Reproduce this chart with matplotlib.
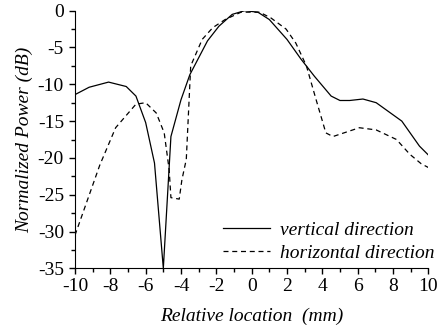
import numpy as np
import matplotlib
matplotlib.use('Agg')
from matplotlib import pyplot as plt
from matplotlib.ticker import MultipleLocator

# vertical direction (solid)
x_vert = [-10, -9.2, -8.1, -7.1, -6.55, -6.0, -5.5, -5.0, -4.57, -4.0, -3.5,
          -2.5, -1.85, -1.1, -0.4, 0.35, 1.0, 2.0, 2.8, 3.55, 4.5, 5.0, 5.55,
          6.3, 7.05, 8.5, 9.5, 10]
y_vert = [-11.4, -10.4, -9.7, -10.3, -11.6, -15.2, -20.7, -35, -17.1, -12.1,
          -8.7, -4.1, -2.1, -0.5, 0, -0.2, -1.2, -3.9, -6.6, -8.9, -11.6,
          -12.2, -12.2, -12.0, -12.5, -15.0, -18.4, -19.6]

# horizontal direction (dashed)
x_horz = [-10, -8.6, -7.7, -6.55, -6.0, -5.4, -4.95, -4.67, -4.57, -4.1,
          -3.95, -3.7, -3.45, -2.8, -2.2, -1.5, -0.6, 0.45, 1.1, 1.95, 2.5,
          3.1, 3.65, 4.2, 4.6, 6.1, 7.05, 8.2, 8.95, 9.6, 10]
y_horz = [-30.5, -21.0, -15.9, -12.7, -12.5, -13.9, -16.6, -21.6, -25.4,
          -25.6, -23.0, -20.2, -7.5, -3.9, -2.3, -1.2, -0.2, -0.2, -1.0, -2.5,
          -4.4, -7.5, -12.1, -16.6, -17.1, -15.9, -16.2, -17.5, -19.5, -20.8,
          -21.3]

plt.rcParams['font.family'] = ['Liberation Serif', 'DejaVu Serif']
plt.rcParams['font.size'] = 14
plt.rcParams['axes.unicode_minus'] = False

W, H = 440, 328
fig = plt.figure(figsize=(W / 100, H / 100), dpi=100)
ax = fig.add_axes([75 / W, 1 - 268.3 / H, 353.3 / W, 257.6 / H])

ax.plot(x_vert, y_vert, color='black', lw=0.9, label='vertical direction')
ax.plot(x_horz, y_horz, color='black', lw=0.9, ls=(0, (4, 3)),
        label='horizontal direction')

ax.set_xlim(-10, 10)
ax.set_ylim(-35, 0)
ax.xaxis.set_major_locator(MultipleLocator(2))
ax.xaxis.set_minor_locator(MultipleLocator(1))
ax.yaxis.set_major_locator(MultipleLocator(5))
ax.yaxis.set_minor_locator(MultipleLocator(2.5))
ax.tick_params(which='major', direction='out', length=4, width=1)
ax.tick_params(which='minor', direction='out', length=3, width=1)
ax.tick_params(axis='y', which='major', pad=4)
ax.tick_params(axis='x', which='major', pad=3)
ax.spines['top'].set_visible(False)
ax.spines['right'].set_visible(False)

ax.set_xlabel('Relative location  (mm)', style='italic', labelpad=9)
ax.set_ylabel('Normalized Power (dB)', style='italic', labelpad=3)

leg = ax.legend(loc='lower right', frameon=False, prop={'style': 'italic'},
                handlelength=2.4, handletextpad=0.5, labelspacing=0.3,
                borderpad=0, borderaxespad=0,
                bbox_to_anchor=(434 / W, 1 - 262 / H),
                bbox_transform=fig.transFigure)

fig.savefig('out.png', dpi=100)
